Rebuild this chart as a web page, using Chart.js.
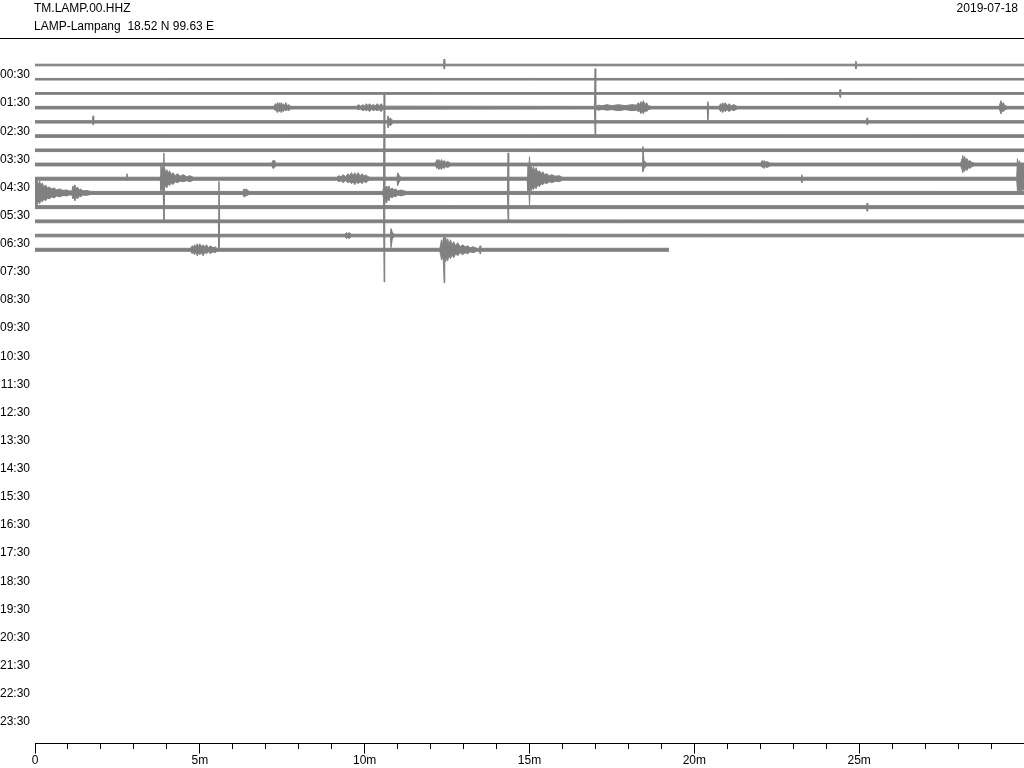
<!DOCTYPE html>
<html><head><meta charset="utf-8">
<script src="https://cdn.jsdelivr.net/npm/chart.js@4/dist/chart.umd.min.js"></script>
<style>
html,body{margin:0;padding:0;background:#fff;overflow:hidden;}
#wrap{position:relative;width:1024px;height:768px;}
canvas{position:absolute;left:0;top:0;}
.t{position:absolute;font:12px 'Liberation Sans',Arial,sans-serif;line-height:14px;color:#000;white-space:pre;}
#rule{position:absolute;left:0;top:38px;width:1024px;height:1px;background:#000;}
</style></head>
<body><div id="wrap">
<canvas id="c" width="1024" height="768"></canvas>
<div class="t" id="station" style="left:34px;top:1px"></div>
<div class="t" id="place" style="left:34px;top:19px"></div>
<div class="t" id="date" style="right:6px;top:1px"></div>
<div id="rule"></div>
</div>
<script>
const stationName = 'TM.LAMP.00.HHZ';
const placeName = 'LAMP-Lampang  18.52 N 99.63 E';
const dayLabel = '2019-07-18';

const hourLabels = ['00:30','01:30','02:30','03:30','04:30','05:30','06:30','07:30','08:30','09:30','10:30','11:30',
  '12:30','13:30','14:30','15:30','16:30','17:30','18:30','19:30','20:30','21:30','22:30','23:30'];
const minuteTicks = [0, 5, 10, 15, 20, 25];
const minuteLabels = ['0', '5m', '10m', '15m', '20m', '25m'];

// envelope of each half-hour trace: [minute, amplitude up, amplitude down]
const trace00 = [[0,0.8,0.8],[12.39,0.8,0.8],[12.41,6,4],[12.43,0.8,0.8],[24.88,0.8,0.8],[24.90,4,4],[24.92,0.8,0.8],[30,0.8,0.8]];
const trace01 = [[0,0.8,0.8],[30,0.8,0.8]];
const trace02 = [[0,0.9,0.9],[24.40,0.9,0.9],[24.42,4,4],[24.44,0.9,0.9],[30,0.9,0.9]];
const trace03 = [[0,1.3,1.3],
  [7.25,1.3,1.3],[7.29,4,3],[7.32,2,2],[7.35,5,5],[7.38,2,3],[7.41,5,4],[7.44,3,2],[7.47,5,5],[7.5,2,2],[7.53,4,4],[7.57,2,2],[7.61,5,3],[7.65,2,2],[7.7,3,3],[7.75,1.5,1.5],[7.8,1.3,1.3],
  [9.75,1.3,1.3],[9.82,3,2],[9.88,1.5,1.5],[9.95,3,3],[10.0,1.5,2],[10.05,4,3],[10.1,2,2],[10.15,4,4],[10.2,2,1.5],[10.26,3,3],[10.32,2,2],[10.38,4,3],[10.44,2,2],[10.5,4,4],[10.56,1.5,1.5],
  [16.97,1.3,1.3],[16.99,39,28],[17.01,1.5,1.5],[17.1,2.5,2.5],[17.2,1.8,1.8],[17.35,3,2.5],[17.5,2,2],[17.7,3,3],[17.9,2,2],[18.1,3,3],[18.25,2.5,2.5],
  [18.3,5,4],[18.34,3,3],[18.38,6,6],[18.42,3,3],[18.45,7,6],[18.5,3,3],[18.55,5,4],[18.6,2,2],[18.7,1.3,1.3],
  [20.39,1.3,1.3],[20.41,6,12],[20.43,1.3,1.3],
  [20.75,1.3,1.3],[20.8,4,4],[20.83,2,2],[20.86,5,5],[20.9,2.5,2.5],[20.94,5,4],[21.0,2,2],[21.05,4,4],[21.12,2,2],[21.2,3,3],[21.3,1.3,1.3],
  [29.25,1.3,1.3],[29.28,5,4],[29.3,7,6],[29.33,3,3],[29.37,5,4],[29.42,2,2],[29.5,1.3,1.3],[30,1.3,1.3]];
const trace04 = [[0,1.2,1.2],[1.74,1.2,1.2],[1.76,6,3],[1.78,1.2,1.2],
  [10.68,1.2,1.2],[10.71,6,6],[10.74,2,2],[10.77,4,4],[10.86,1.2,1.2],
  [25.22,1.2,1.2],[25.24,4,3],[25.26,1.2,1.2],[30,1.2,1.2]];
const trace05 = [[0,1.3,1.3],[30,1.3,1.3]];
const trace06 = [[0,1.3,1.3],[30,1.3,1.3]];
const trace07 = [[0,1.4,1.4],
  [7.18,1.4,1.4],[7.22,4,4],[7.24,1.8,1.8],[7.27,4,3],[7.3,1.4,1.4],
  [12.15,1.4,1.4],[12.19,5,4],[12.22,2,2],[12.25,5,5],[12.29,2,3],[12.33,5,5],[12.37,2,2],[12.41,4,4],[12.46,2,2],[12.52,3,3],[12.6,1.4,1.4],
  [18.42,1.4,1.4],[18.44,18,7],[18.47,4,4],[18.55,1.4,1.4],
  [22.02,1.4,1.4],[22.06,4,3],[22.09,2,2],[22.12,4,4],[22.16,2,2],[22.2,3,3],[22.3,1.4,1.4],
  [28.08,1.4,1.4],[28.12,6,5],[28.14,9,8],[28.17,4,4],[28.2,8,7],[28.23,4,3],[28.27,6,6],[28.31,3,3],[28.36,4,4],[28.42,2,2],[28.5,1.4,1.4],
  [30,1.4,1.4]];
const trace08 = [[0,1.5,1.5],[2.77,1.5,1.5],[2.79,5,2],[2.81,1.5,1.5],
  [3.80,1.5,1.5],[3.82,13,12],[3.84,8,7],[3.87,12,12],[3.9,7,8],[3.93,11,10],[3.96,6,6],[4.0,9,9],[4.04,5,5],[4.08,8,7],[4.13,4,4],[4.18,6,6],[4.25,3,3],[4.32,5,4],[4.4,2.5,2.5],[4.5,4,3],[4.6,2,2],[4.7,3,3],[4.8,1.5,1.5],
  [9.15,1.5,1.5],[9.22,3,3],[9.28,2,2],[9.35,4,4],[9.42,2,2],[9.5,5,4],[9.55,3,3],[9.6,6,5],[9.65,3,3],[9.7,6,6],[9.75,3,3],[9.8,6,5],[9.86,3,3],[9.92,5,5],[9.98,2.5,2.5],[10.04,4,4],[10.1,2,2],[10.16,1.5,1.5],
  [10.98,1.5,1.5],[11.0,6,7],[11.05,3,3],[11.1,1.5,1.5],
  [14.93,1.5,1.5],[14.95,14,12],[14.98,10,10],[15.0,22,27],[15.02,9,9],[15.05,13,12],[15.08,8,9],[15.12,12,11],[15.16,7,7],[15.2,11,10],[15.25,6,6],[15.3,8,8],[15.35,5,5],[15.4,7,6],[15.46,4,4],[15.52,5,5],[15.6,3,3],[15.68,4,4],[15.78,2.5,2.5],[15.9,3,3],[16.0,1.5,1.5],
  [23.24,1.5,1.5],[23.26,4,4],[23.28,1.5,1.5],
  [29.78,1.5,1.5],[29.8,20,12],[29.83,12,10],[29.86,18,14],[29.9,12,12],[29.94,16,12],[29.97,12,10],[30,15,12]];
const trace09 = [[0,14,13],[0.03,9,9],[0.06,13,12],[0.1,8,8],[0.14,12,11],[0.18,7,7],[0.22,10,9],[0.27,6,6],[0.32,8,8],[0.38,5,5],[0.44,6,6],[0.5,4,4],[0.58,5,5],[0.66,3,3],[0.75,4,4],[0.85,2.5,2.5],[0.95,3,3],[1.05,2,2],
  [1.12,2,2],[1.15,7,6],[1.18,4,4],[1.21,8,8],[1.25,4,4],[1.29,6,6],[1.34,3,3],[1.39,4,4],[1.45,2,2],[1.55,2.5,2.5],[1.7,1.5,1.5],
  [3.89,1.5,1.5],[3.91,40,27],[3.93,1.5,1.5],
  [6.3,1.5,1.5],[6.34,4,4],[6.37,2,2],[6.4,4,3],[6.5,1.5,1.5],
  [10.55,1.5,1.5],[10.57,5,5],[10.59,99,89],[10.61,8,12],[10.64,4,5],[10.67,7,10],[10.7,4,4],[10.74,7,8],[10.78,3,3],[10.83,5,5],[10.88,3,3],[10.94,4,4],[11.0,2,2],[11.1,3,3],[11.2,2,2],[11.3,1.5,1.5],
  [14.33,1.5,1.5],[14.35,40,27],[14.37,1.5,1.5],[30,1.5,1.5]];
const trace10 = [[0,1.5,1.5],[25.22,1.5,1.5],[25.24,4,4],[25.26,1.5,1.5],[30,1.5,1.5]];
const trace11 = [[0,1.4,1.4],[5.56,1.4,1.4],[5.58,40,27],[5.60,1.4,1.4],[30,1.4,1.4]];
const trace12 = [[0,1.3,1.3],[9.4,1.3,1.3],[9.45,3,3],[9.48,1.6,1.6],[9.52,3,3],[9.6,1.3,1.3],
  [10.78,1.3,1.3],[10.80,7,12],[10.84,3,3],[10.9,1.3,1.3],[30,1.3,1.3]];
const trace13 = [[0,1.5,1.5],
  [4.72,1.5,1.5],[4.77,4,4],[4.8,2,2],[4.84,5,5],[4.88,3,2],[4.92,6,6],[4.96,3,3],[5.0,6,5],[5.05,3,3],[5.1,5,6],[5.15,2.5,2.5],[5.2,5,4],[5.26,2,2],[5.32,4,4],[5.4,2,2],[5.46,3,3],[5.52,1.5,1.5],
  [12.28,1.5,1.5],[12.31,6,6],[12.33,10,10],[12.36,5,6],[12.39,12,12],[12.41,13,33],[12.43,7,7],[12.46,12,12],[12.49,6,6],[12.52,11,11],[12.56,5,5],[12.6,10,9],[12.65,5,5],[12.7,8,8],[12.76,4,4],[12.82,7,6],[12.9,3,3],[12.97,5,5],[13.05,3,3],[13.12,4,4],[13.2,2,2],[13.28,3,3],[13.4,1.5,1.5],
  [13.48,1.5,1.5],[13.50,4,4],[13.52,1.5,1.5],[19.23,1.5,1.5]];
const traces = [trace00,trace01,trace02,trace03,trace04,trace05,trace06,trace07,trace08,trace09,trace10,trace11,trace12,trace13];

document.getElementById('station').textContent = stationName;
document.getElementById('place').textContent = placeName;
document.getElementById('date').textContent = dayLabel;

const GAP = 14.2;
const GREY = '#808080';
const datasets = [];
traces.forEach((env, i) => {
  const base = i * GAP;
  datasets.push({data: env.map(p => ({x: p[0], y: base - p[1]})), borderColor: GREY, borderWidth: 1, pointRadius: 0, fill: false});
  datasets.push({data: env.map(p => ({x: p[0], y: base + p[2]})), borderColor: GREY, borderWidth: 1, pointRadius: 0, fill: '-1', backgroundColor: GREY});
});

Chart.defaults.font.family = "'Liberation Sans', Arial, sans-serif";
Chart.defaults.font.size = 12;
Chart.defaults.color = '#000';

new Chart(document.getElementById('c'), {
  type: 'line',
  data: {datasets},
  options: {
    responsive: false, animation: false, devicePixelRatio: 1,
    layout: {padding: {top: 50, left: 0, right: 0, bottom: 0}},
    plugins: {legend: {display: false}, tooltip: {enabled: false}},
    elements: {line: {tension: 0}},
    scales: {
      x: {type: 'linear', min: 0, max: 30, position: 'bottom',
        ticks: {stepSize: 1, autoSkip: false, maxRotation: 0, padding: 0, color: '#000',
          callback: v => { const k = minuteTicks.indexOf(v); return k >= 0 ? minuteLabels[k] : ''; }},
        grid: {drawOnChartArea: false, drawTicks: true, tickLength: 10, tickColor: '#000', tickWidth: 1,
          tickBorderDash: c => (c.tick && minuteTicks.includes(c.tick.value)) ? [] : [5, 20]},
        border: {display: true, color: '#000', width: 1}},
      y: {type: 'linear', reverse: true, min: -15, max: 678,
        afterFit: s => { s.width = 35; },
        afterBuildTicks: s => { s.ticks = hourLabels.map((_, k) => ({value: 10 + 28.1 * k})); },
        ticks: {autoSkip: false, padding: 5, color: '#000', callback: (v, i) => hourLabels[i]},
        grid: {display: false, drawTicks: false}, border: {display: false}}
    }
  }
});
</script>
</body></html>
